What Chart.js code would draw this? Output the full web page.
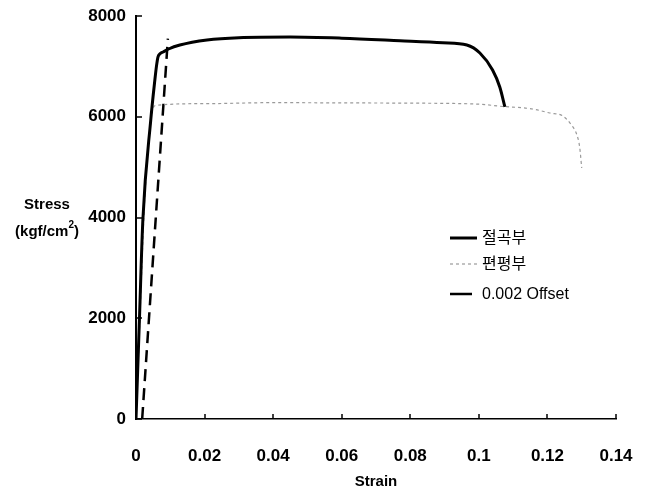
<!DOCTYPE html>
<html>
<head>
<meta charset="utf-8">
<script src="https://cdn.jsdelivr.net/npm/chart.js@4.4.0/dist/chart.umd.min.js"></script>
<style>
  body { margin: 0; background: #fff; }
  #wrap { width: 649px; height: 491px; position: relative; }
</style>
</head>
<body>
<div id="wrap"><canvas id="stressChart"></canvas></div>
<script>
// --- data ---
const seriesNames = ['절곡부', '편평부', '0.002 Offset'];

const bentStrain  = [0, 0.001, 0.002, 0.0043, 0.0055, 0.0060, 0.0064, 0.0070, 0.0079, 0.0095, 0.0128, 0.0207, 0.030, 0.045, 0.060, 0.077, 0.0895, 0.0965, 0.1003, 0.104, 0.1061, 0.1076];
const bentStress  = [0, 1975, 3950, 5935, 6730, 7020, 7186, 7250, 7285, 7345, 7424, 7524, 7570, 7583, 7560, 7510, 7470, 7424, 7265, 6928, 6590, 6194];

const flatStrain  = [0, 0.0012, 0.0025, 0.0045, 0.0058, 0.020, 0.040, 0.060, 0.080, 0.100, 0.106, 0.1157, 0.1207, 0.1245, 0.127, 0.1286, 0.1294, 0.130];
const flatStress  = [0, 2100, 4300, 6000, 6225, 6260, 6280, 6275, 6270, 6250, 6210, 6154, 6074, 6015, 5836, 5638, 5400, 4983];

const offsetStrain = [0.0018, 0.0093];
const offsetStress = [0, 7550];

const xTicks = [0, 0.02, 0.04, 0.06, 0.08, 0.1, 0.12, 0.14];
const yTicks = [0, 2000, 4000, 6000, 8000];

const FONT = "'Liberation Sans', Arial, 'Noto Sans CJK KR', sans-serif";

function toPoints(xs, ys) {
    return xs.map((x, i) => ({ x: x, y: ys[i] }));
}

// ticks pointing into the plot + axis title + in-plot legend
const decorPlugin = {
    id: 'decor',
    afterDraw(chart) {
        const ctx = chart.ctx;
        const area = chart.chartArea;
        const xs = chart.scales.x, ys = chart.scales.y;
        ctx.save();
        ctx.strokeStyle = '#000';
        ctx.lineWidth = 1.5;
        xTicks.forEach(v => {
            const px = Math.round(xs.getPixelForValue(v));
            ctx.beginPath();
            ctx.moveTo(px, area.bottom);
            ctx.lineTo(px, area.bottom - 5);
            ctx.stroke();
        });
        yTicks.forEach(v => {
            const py = Math.round(ys.getPixelForValue(v));
            ctx.beginPath();
            ctx.moveTo(area.left, py);
            ctx.lineTo(area.left + 6, py);
            ctx.stroke();
        });

        // y axis title
        ctx.fillStyle = '#000';
        ctx.textAlign = 'center';
        ctx.textBaseline = 'middle';
        const cx = area.left - 89;
        const ty = ys.getPixelForValue(4000);
        ctx.font = 'bold 15px ' + FONT;
        ctx.fillText('Stress', cx, ty - 13);
        const main = '(kgf/cm';
        const wMain = ctx.measureText(main).width;
        ctx.font = 'bold 10px ' + FONT;
        const wSup = ctx.measureText('2').width;
        ctx.font = 'bold 15px ' + FONT;
        const wEnd = ctx.measureText(')').width;
        let sx = cx - (wMain + wSup + wEnd) / 2;
        ctx.textAlign = 'left';
        ctx.fillText(main, sx, ty + 14);
        sx += wMain;
        ctx.font = 'bold 10px ' + FONT;
        ctx.fillText('2', sx, ty + 8);
        sx += wSup;
        ctx.font = 'bold 15px ' + FONT;
        ctx.fillText(')', sx, ty + 14);

        // legend
        const lx = area.left + 314;
        const rows = [area.top + 222, area.top + 248, area.top + 278];
        chart.data.datasets.forEach((ds, i) => {
            const y = rows[i];
            ctx.beginPath();
            ctx.strokeStyle = ds.borderColor;
            ctx.lineWidth = ds.borderWidth;
            ctx.setLineDash(i === 2 ? [] : (ds.borderDash || []));
            ctx.moveTo(lx, y);
            ctx.lineTo(lx + (i === 2 ? 22 : 27), y);
            ctx.stroke();
            ctx.setLineDash([]);
            ctx.fillStyle = '#000';
            ctx.font = '16px ' + FONT;
            ctx.textAlign = 'left';
            ctx.fillText(ds.label, lx + 32, y + 1);
        });
        ctx.restore();
    }
};

const ctx = document.getElementById('stressChart').getContext('2d');
new Chart(ctx, {
    type: 'scatter',
    data: {
        datasets: [
            {
                label: seriesNames[0],
                data: toPoints(bentStrain, bentStress),
                showLine: true,
                borderColor: '#000',
                borderWidth: 3,
                pointRadius: 0,
                cubicInterpolationMode: 'monotone'
            },
            {
                label: seriesNames[1],
                data: toPoints(flatStrain, flatStress),
                showLine: true,
                borderColor: '#9a9a9a',
                borderWidth: 1.2,
                borderDash: [3, 3],
                pointRadius: 0,
                cubicInterpolationMode: 'monotone'
            },
            {
                label: seriesNames[2],
                data: toPoints(offsetStrain, offsetStress),
                showLine: true,
                borderColor: '#000',
                borderWidth: 2.5,
                borderDash: [12, 7],
                pointRadius: 0
            }
        ]
    },
    options: {
        responsive: true,
        maintainAspectRatio: false,
        animation: false,
        layout: { padding: { left: 0, top: 16, right: 33, bottom: 0 } },
        plugins: {
            legend: { display: false },
            tooltip: { enabled: false }
        },
        scales: {
            x: {
                type: 'linear',
                min: 0,
                max: 0.14,
                afterBuildTicks: (scale) => { scale.ticks = xTicks.map(v => ({ value: v })); },
                afterFit: (scale) => {
                    scale.height = 72;
                    scale.paddingLeft = 0;
                    scale.paddingRight = 0;
                },
                grid: { display: false, drawTicks: false },
                border: { display: true, color: '#000', width: 1.5 },
                ticks: {
                    color: '#000',
                    padding: 27,
                    maxRotation: 0,
                    font: { family: FONT, size: 17, weight: 'bold' },
                    callback: (v) => String(Number(v.toFixed(2)))
                },
                title: {
                    display: true,
                    text: 'Strain',
                    color: '#000',
                    padding: { top: 0, bottom: 0 },
                    font: { family: FONT, size: 15, weight: 'bold' }
                }
            },
            y: {
                type: 'linear',
                min: 0,
                max: 8000,
                afterBuildTicks: (scale) => { scale.ticks = yTicks.map(v => ({ value: v })); },
                afterFit: (scale) => {
                    scale.width = 136;
                    scale.paddingTop = 0;
                    scale.paddingBottom = 0;
                },
                grid: { display: false, drawTicks: false },
                border: { display: true, color: '#000', width: 2 },
                ticks: {
                    color: '#000',
                    padding: 10,
                    font: { family: FONT, size: 17, weight: 'bold' },
                    callback: (v) => String(v)
                }
            }
        }
    },
    plugins: [decorPlugin]
});
</script>
</body>
</html>
